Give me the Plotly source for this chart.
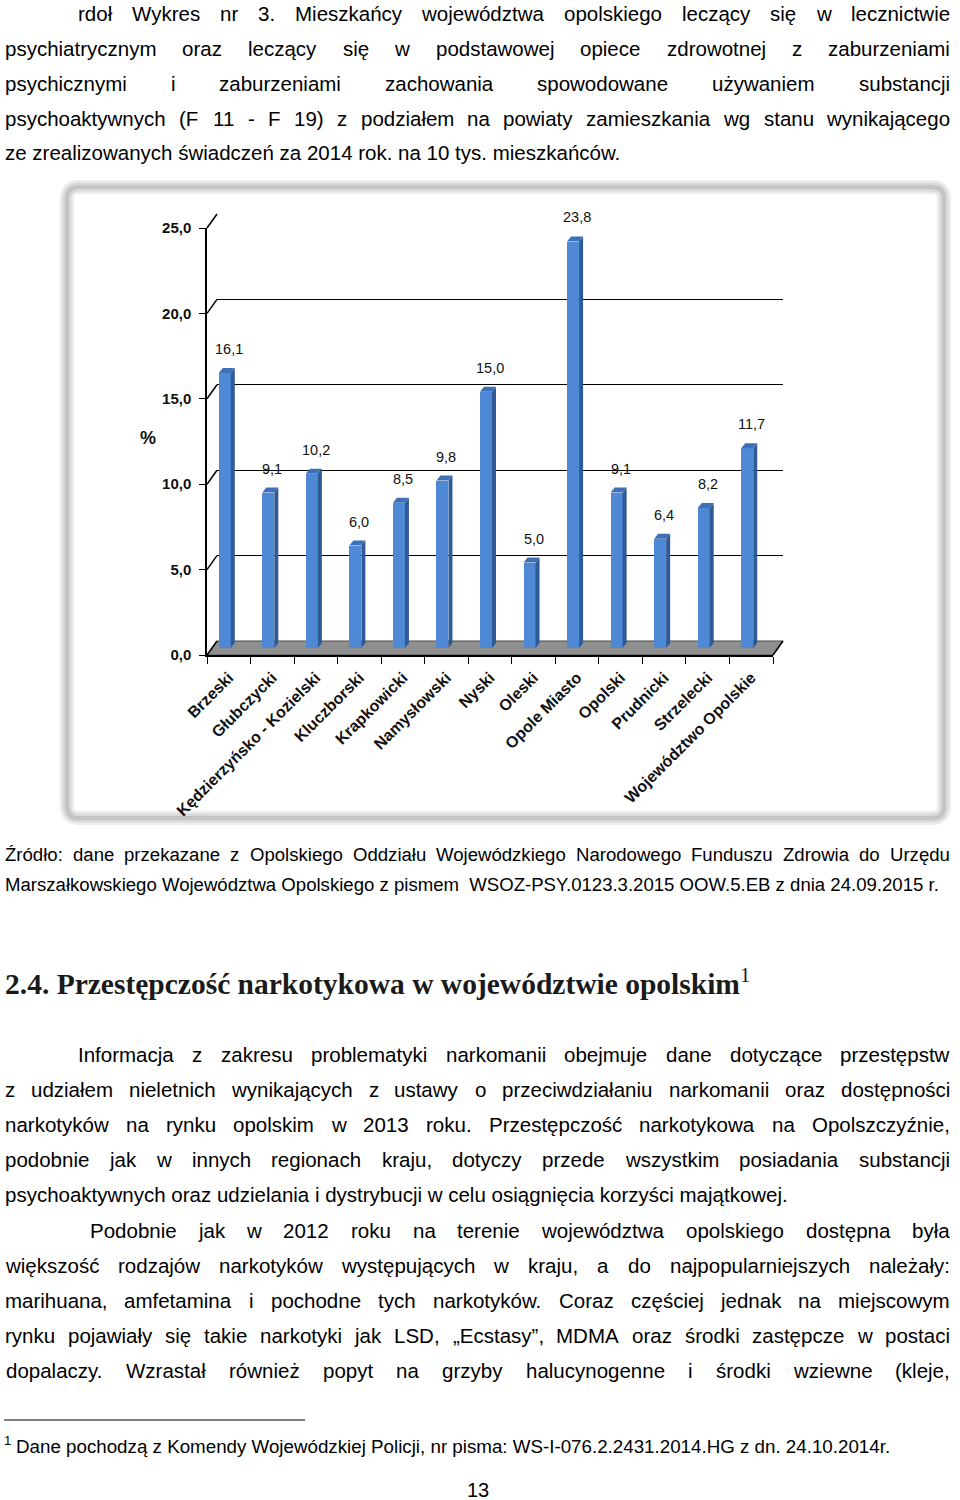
import plotly.graph_objects as go

W, H = 960, 1500
def px(x): return x / W
def py(y): return 1 - y / H

# ---------------- data ----------------
categories = ["Brzeski", "Głubczycki", "Kędzierzyńsko - Kozielski", "Kluczborski",
              "Krapkowicki", "Namysłowski", "Nyski", "Oleski", "Opole Miasto",
              "Opolski", "Prudnicki", "Strzelecki", "Województwo Opolskie"]
values = [16.1, 9.1, 10.2, 6.0, 8.5, 9.8, 15.0, 5.0, 23.8, 9.1, 6.4, 8.2, 11.7]
y_tickvals = [0, 5, 10, 15, 20, 25]
y_ticktext = ["0,0", "5,0", "10,0", "15,0", "20,0", "25,0"]
y_title = "%"

title_lines = [
    "rdoł Wykres nr 3. Mieszkańcy województwa opolskiego leczący się w lecznictwie",
    "psychiatrycznym oraz leczący się w podstawowej opiece zdrowotnej z zaburzeniami",
    "psychicznymi i zaburzeniami zachowania spowodowane używaniem substancji",
    "psychoaktywnych (F 11 - F 19) z podziałem na powiaty zamieszkania wg stanu wynikającego",
    "ze zrealizowanych świadczeń za 2014 rok. na 10 tys. mieszkańców.",
]
source_lines = [
    "Źródło: dane przekazane z Opolskiego Oddziału Wojewódzkiego Narodowego Funduszu Zdrowia do Urzędu",
    "Marszałkowskiego Województwa Opolskiego z pismem  WSOZ-PSY.0123.3.2015 OOW.5.EB z dnia 24.09.2015 r.",
]
heading = "2.4. Przestępczość narkotykowa w województwie opolskim"
body_lines = [
    "Informacja z zakresu problematyki narkomanii obejmuje dane dotyczące przestępstw",
    "z udziałem nieletnich wynikających z ustawy o przeciwdziałaniu narkomanii oraz dostępności",
    "narkotyków na rynku opolskim w 2013 roku. Przestępczość narkotykowa na Opolszczyźnie,",
    "podobnie jak w innych regionach kraju, dotyczy przede wszystkim posiadania substancji",
    "psychoaktywnych oraz udzielania i dystrybucji w celu osiągnięcia korzyści majątkowej.",
    "Podobnie jak w 2012 roku na terenie województwa opolskiego dostępna była",
    "większość rodzajów narkotyków występujących w kraju, a do najpopularniejszych należały:",
    "marihuana, amfetamina i pochodne tych narkotyków. Coraz częściej jednak na miejscowym",
    "rynku pojawiały się takie narkotyki jak LSD, „Ecstasy”, MDMA oraz środki zastępcze w postaci",
    "dopalaczy. Wzrastał również popyt na grzyby halucynogenne i środki wziewne (kleje,",
]
footnote = "Dane pochodzą z Komendy Wojewódzkiej Policji, nr pisma: WS-I-076.2.2431.2014.HG z dn. 24.10.2014r."
page_number = "13"

# ---------------- text metrics (Liberation Sans = Arial metrics) ----------------
ARIAL = {' ': 278, '!': 278, '(': 333, ')': 333, ',': 278, '-': 333, '.': 278, '/': 278,
         ':': 278, ';': 278, '„': 333, '”': 333,
         'a': 556, 'b': 556, 'c': 500, 'd': 556, 'e': 556, 'f': 278, 'g': 556, 'h': 556,
         'i': 222, 'j': 222, 'k': 500, 'l': 222, 'm': 833, 'n': 556, 'o': 556, 'p': 556,
         'q': 556, 'r': 333, 's': 500, 't': 278, 'u': 556, 'v': 500, 'w': 722, 'x': 500,
         'y': 500, 'z': 500,
         'A': 667, 'B': 667, 'C': 722, 'D': 722, 'E': 667, 'F': 611, 'G': 778, 'H': 722,
         'I': 278, 'J': 500, 'K': 667, 'L': 556, 'M': 833, 'N': 722, 'O': 778, 'P': 667,
         'Q': 778, 'R': 722, 'S': 667, 'T': 611, 'U': 722, 'V': 667, 'W': 944, 'X': 667,
         'Y': 667, 'Z': 611,
         'ą': 556, 'ć': 500, 'ę': 556, 'ł': 222, 'ń': 556, 'ó': 556, 'ś': 500, 'ź': 500,
         'ż': 500, 'Ź': 611, 'Ż': 611, 'Ł': 556, 'Ś': 667}
for d in "0123456789":
    ARIAL[d] = 556

def tw(s, size):
    return sum(ARIAL.get(ch, 556) for ch in s) * size / 1000.0

TXT_FONT = "Liberation Sans"
annotations = []

def put(text, x, yc, size, anchor="left", family=TXT_FONT, color="#000000"):
    annotations.append(dict(text=text, x=px(x), y=py(yc), xref="paper", yref="paper",
                            xanchor=anchor, yanchor="middle", showarrow=False,
                            font=dict(family=family, size=size, color=color)))

def justified(line, x0, x1, yc, size):
    words = line.split(" ")
    widths = [tw(w, size) for w in words]
    gap = (x1 - x0 - sum(widths)) / (len(words) - 1)
    x = x0
    for w, wd in zip(words, widths):
        put(w, x + wd / 2, yc, size, anchor="center")
        x += wd + gap

BODY_SIZE = 20.5
# title block
t_y = [13, 48, 83, 118, 153]
justified(title_lines[0], 78, 950, t_y[0], BODY_SIZE)
for i in range(1, 4):
    justified(title_lines[i], 5, 950, t_y[i], BODY_SIZE)
put(title_lines[4], 3, t_y[4], BODY_SIZE)

# source
SRC_SIZE = 939 / tw(source_lines[1], 1)
justified(source_lines[0], 5, 950, 855, SRC_SIZE)
put(source_lines[1], 3, 884, SRC_SIZE)

# heading
annotations.append(dict(text="<b>" + heading + "</b><sup>1</sup>", x=px(3), y=py(982),
                        xref="paper", yref="paper", xanchor="left", yanchor="middle",
                        showarrow=False,
                        font=dict(family="Liberation Serif", size=29.5, color="#1a1a1a")))

# body
b_y = [1054, 1089, 1124, 1159, 1194, 1230, 1265, 1300, 1335, 1370]
justified(body_lines[0], 78, 950, b_y[0], BODY_SIZE)
for i in range(1, 4):
    justified(body_lines[i], 5, 950, b_y[i], BODY_SIZE)
put(body_lines[4], 3, b_y[4], BODY_SIZE)
justified(body_lines[5], 90, 950, b_y[5], BODY_SIZE)
for i in range(6, 10):
    justified(body_lines[i], 5, 950, b_y[i], BODY_SIZE)

# footnote
FN_SIZE = 876 / tw(footnote, 1)
put("<sup>1</sup>", 2, 1440, FN_SIZE)
put(footnote, 14, 1446, FN_SIZE)
put(page_number, 478, 1490, 20, anchor="center")

# ---------------- chart geometry ----------------
n = len(categories)
FX0, FX1, FY0, FY1 = 207, 773, 655, 228          # front plane
DXP, DYP = 10, 14                                # depth offset of back wall
BX0, BX1, BY0, BY1 = FX0 + DXP, FX1 + DXP, FY0 - DYP, FY1 - DYP
RX0, RX1, RY0 = 203, 769, 648                    # bar plane
RY1 = RY0 - (FY0 - FY1)
YMAX = 25.0

cat_px = (RX1 - RX0) / n
unit_px = (RY0 - RY1) / YMAX
hw = 6.0 / cat_px
ddx = 4.0 / cat_px
ddy = 5.0 / unit_px

FRONT = "#4f89d6"
SIDE = "#2e5b96"
TOP = "#3d70b6"

fig = go.Figure()

# invisible trace on front axis (category ticks)
fig.add_trace(go.Scatter(x=categories, y=[0] * n, mode="markers", marker=dict(opacity=0),
                         hoverinfo="skip", showlegend=False, xaxis="x", yaxis="y"))
# invisible trace on back wall axis (gridlines)
fig.add_trace(go.Scatter(x=[0, 1], y=[0, 0], mode="markers", marker=dict(opacity=0),
                         hoverinfo="skip", showlegend=False, xaxis="x2", yaxis="y2"))

xs = list(range(n))
# front faces
fig.add_trace(go.Bar(x=xs, y=values, width=2 * hw, marker=dict(color=FRONT, line=dict(width=0)),
                     showlegend=False, hoverinfo="skip", xaxis="x3", yaxis="y3"))
# side faces
sx, sy = [], []
for i, v in zip(xs, values):
    sx += [i + hw, i + hw + ddx, i + hw + ddx, i + hw, i + hw, None]
    sy += [0, ddy, v + ddy, v, 0, None]
fig.add_trace(go.Scatter(x=sx, y=sy, mode="lines", fill="toself", fillcolor=SIDE,
                         line=dict(width=0, color=SIDE), showlegend=False, hoverinfo="skip",
                         xaxis="x3", yaxis="y3"))
# top faces
tx, ty = [], []
for i, v in zip(xs, values):
    tx += [i - hw, i + hw, i + hw + ddx, i - hw + ddx, i - hw, None]
    ty += [v, v, v + ddy, v + ddy, v, None]
fig.add_trace(go.Scatter(x=tx, y=ty, mode="lines", fill="toself", fillcolor=TOP,
                         line=dict(width=0, color=TOP), showlegend=False, hoverinfo="skip",
                         xaxis="x3", yaxis="y3"))

# data labels
for i, v in zip(xs, values):
    annotations.append(dict(text=f"{v:.1f}".replace(".", ","), x=i, y=v, xref="x3", yref="y3",
                            xanchor="center", yanchor="middle", xshift=4, yshift=24,
                            showarrow=False,
                            font=dict(family="Liberation Sans", size=14.5, color="#111111")))

# y title
annotations.append(dict(text="<b>" + y_title + "</b>", x=px(148), y=py(438), xref="paper",
                        yref="paper", showarrow=False, xanchor="center", yanchor="middle",
                        font=dict(family="Liberation Sans", size=18, color="#111111")))

# ---------------- shapes ----------------
shapes = []
def P(x, y): return f"{px(x):.6f},{py(y):.6f}"

# chart frame (rounded, soft grey halo)
fx0, fy0, fx1, fy1, r = 67, 187, 944, 818, 12
frame = (f"M {P(fx0 + r, fy0)} L {P(fx1 - r, fy0)} Q {P(fx1, fy0)} {P(fx1, fy0 + r)} "
         f"L {P(fx1, fy1 - r)} Q {P(fx1, fy1)} {P(fx1 - r, fy1)} L {P(fx0 + r, fy1)} "
         f"Q {P(fx0, fy1)} {P(fx0, fy1 - r)} L {P(fx0, fy0 + r)} Q {P(fx0, fy0)} {P(fx0 + r, fy0)} Z")
shapes.append(dict(type="path", path=frame, xref="paper", yref="paper", layer="below",
                   line=dict(color="#ececec", width=14), fillcolor="white"))
shapes.append(dict(type="path", path=frame, xref="paper", yref="paper", layer="below",
                   line=dict(color="#d9d9d9", width=9)))
shapes.append(dict(type="path", path=frame, xref="paper", yref="paper", layer="below",
                   line=dict(color="#c4c4c4", width=4)))

# floor
floor = f"M {P(FX0, FY0)} L {P(BX0, BY0)} L {P(BX1, BY0)} L {P(FX1, FY0)} Z"
shapes.append(dict(type="path", path=floor, xref="paper", yref="paper", layer="below",
                   fillcolor="#8f8f8f", line=dict(color="#4d4d4d", width=1)))

# wall slashes connecting front ticks to back gridlines
def fy(v): return FY0 - v / YMAX * (FY0 - FY1)
for v in y_tickvals:
    shapes.append(dict(type="line", xref="paper", yref="paper",
                       x0=px(FX0), y0=py(fy(v)), x1=px(BX0), y1=py(fy(v) - DYP),
                       line=dict(color="#000000", width=1.5), layer="above"))
shapes.append(dict(type="line", xref="paper", yref="paper",
                   x0=px(FX1), y0=py(FY0), x1=px(BX1), y1=py(BY0),
                   line=dict(color="#000000", width=1.5), layer="above"))
# footnote rule
shapes.append(dict(type="line", xref="paper", yref="paper", x0=px(4), x1=px(305),
                   y0=py(1420), y1=py(1420), line=dict(color="#000000", width=1.2)))

fig.update_layout(
    width=W, height=H, margin=dict(l=0, r=0, t=0, b=0, pad=0, autoexpand=False),
    paper_bgcolor="white", plot_bgcolor="rgba(0,0,0,0)", showlegend=False,
    annotations=annotations, shapes=shapes, bargap=0,
    xaxis=dict(domain=[px(FX0), px(FX1)], type="category", categoryorder="array",
               categoryarray=categories, range=[-0.5, n - 0.5], anchor="y", automargin=False,
               tickvals=categories, ticktext=["<b>" + c + "</b>" for c in categories],
               tickangle=-45, tickson="boundaries", ticks="outside", ticklen=7,
               tickcolor="#000000", tickwidth=1.2, showline=True, linecolor="#000000",
               linewidth=2, showgrid=False, zeroline=False, ticklabelstandoff=5,
               tickfont=dict(family="Liberation Sans", size=16, color="#111111"), fixedrange=True),
    yaxis=dict(domain=[py(FY0), py(FY1)], range=[0, YMAX], anchor="x", automargin=False,
               tickvals=y_tickvals, ticktext=["<b>" + t + "</b>" for t in y_ticktext],
               ticks="outside", ticklen=6, tickcolor="#000000", tickwidth=1.2,
               showline=True, linecolor="#000000", linewidth=1.5, showgrid=False,
               zeroline=False, ticklabelstandoff=5,
               tickfont=dict(family="Liberation Sans", size=15, color="#111111")),
    xaxis2=dict(domain=[px(BX0), px(BX1)], range=[0, 1], anchor="y2", visible=False,
                automargin=False),
    yaxis2=dict(domain=[py(BY0), py(BY1)], range=[0, YMAX], anchor="x2", automargin=False,
                tickvals=y_tickvals[1:], showticklabels=False, ticks="",
                showgrid=True, gridcolor="#000000", gridwidth=1.4, zeroline=False,
                showline=False),
    xaxis3=dict(domain=[px(RX0), px(RX1)], range=[-0.5, n - 0.5], anchor="y3", visible=False,
                automargin=False),
    yaxis3=dict(domain=[py(RY0), py(RY1)], range=[0, YMAX], anchor="x3", visible=False,
                automargin=False),
)

fig.write_html("out.html", config={"displayModeBar": False},
               post_script="document.body.style.margin='0';document.body.style.overflow='hidden';")
